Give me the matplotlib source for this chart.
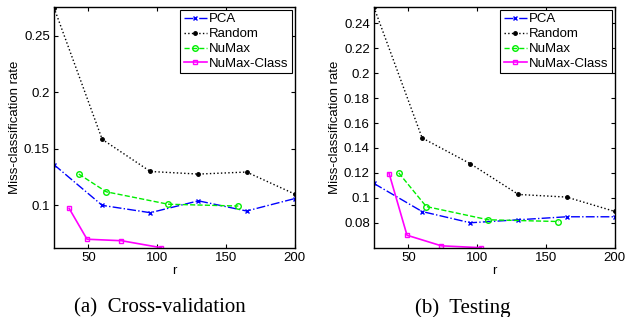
import matplotlib
matplotlib.use("Agg")
import matplotlib.pyplot as plt
from matplotlib.ticker import FormatStrFormatter

# r values
r_pca = [25, 60, 95, 130, 165, 200]
r_numax = [43, 63, 108, 159]
r_class = [36, 49, 74, 103]

# (a) cross-validation
cv_pca = [0.136, 0.100, 0.0935, 0.104, 0.095, 0.106]
cv_random = [0.275, 0.1585, 0.130, 0.1277, 0.1295, 0.110]
cv_numax = [0.1277, 0.112, 0.101, 0.0994]
cv_class = [0.0973, 0.070, 0.0687, 0.0625]

# (b) testing
te_pca = [0.1115, 0.089, 0.080, 0.0824, 0.0848, 0.0848]
te_random = [0.2528, 0.148, 0.1274, 0.1027, 0.1006, 0.0891]
te_numax = [0.120, 0.093, 0.0824, 0.081]
te_class = [0.1195, 0.070, 0.0615, 0.060]

cv_yticks = [0.1, 0.15, 0.2, 0.25]
te_yticks = [0.08, 0.1, 0.12, 0.14, 0.16, 0.18, 0.2, 0.22, 0.24]
xticks = [50, 100, 150, 200]

plt.rcParams['font.family'] = ['Liberation Sans', 'DejaVu Sans']

fig = plt.figure(figsize=(6.26, 3.17), dpi=100)
ax1 = fig.add_axes([0.0863, 0.2186, 0.3845, 0.7584])
ax2 = fig.add_axes([0.5974, 0.2186, 0.3846, 0.7584])


def draw(ax, pca, rnd, numax, cls, yticks, ylim):
    ax.plot(r_pca, pca, color='blue', linestyle='-.', marker='x', markersize=3, linewidth=1, label='PCA')
    ax.plot(r_pca, rnd, color='black', linestyle=':', marker='.', markersize=5, linewidth=1, label='Random')
    ax.plot(r_numax, numax, color='#00ee00', linestyle='--', marker='o', markersize=4,
            markerfacecolor='none', linewidth=1, label='NuMax')
    ax.plot(r_class, cls, color='magenta', linestyle='-', marker='s', markersize=3.5,
            markerfacecolor='none', linewidth=1.2, label='NuMax-Class')
    ax.set_xlim(25, 200)
    ax.set_ylim(*ylim)
    ax.set_xticks(xticks)
    ax.set_yticks(yticks)
    ax.yaxis.set_major_formatter(FormatStrFormatter('%g'))
    ax.tick_params(direction='in', top=True, right=True, labelsize=9.5, length=3, pad=3)
    for s in ax.spines.values():
        s.set_linewidth(1)
    ax.set_xlabel('r', fontsize=9.5, labelpad=1)
    ax.set_ylabel('Miss-classification rate', fontsize=9.5, labelpad=2)
    leg = ax.legend(loc='upper right', fontsize=9.5, fancybox=False, framealpha=1,
                    edgecolor='black', borderpad=0.25, labelspacing=0.2,
                    handlelength=1.75, handletextpad=0.2, borderaxespad=0.2)
    leg.get_frame().set_linewidth(0.8)


draw(ax1, cv_pca, cv_random, cv_numax, cv_class, cv_yticks, (0.0625, 0.2754))
draw(ax2, te_pca, te_random, te_numax, te_class, te_yticks, (0.060, 0.2528))

fig.text(0.256, 0.013, '(a)  Cross-validation', family=['Liberation Serif', 'DejaVu Serif'],
         fontsize=15, ha='center', va='baseline')
fig.text(0.740, 0.013, '(b)  Testing', family=['Liberation Serif', 'DejaVu Serif'],
         fontsize=15, ha='center', va='baseline')

fig.savefig('out.png', dpi=100)
